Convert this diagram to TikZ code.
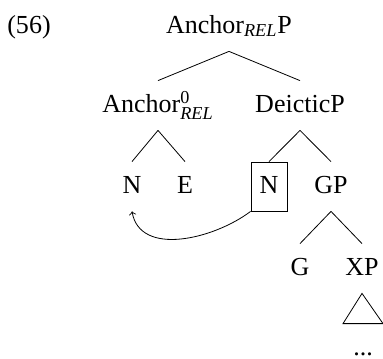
\documentclass[tikz,border=0pt]{standalone}
\usepackage{amsmath}
\usepackage{fontspec}
\setmainfont{Liberation Serif}
\begin{document}
\begin{tikzpicture}[
    every node/.style={font=\fontsize{13}{15}\selectfont},
    lbl/.style={anchor=base, inner sep=0pt, text height=15.5pt, text depth=9pt},
    boxed/.style={lbl, draw, minimum width=18pt}]
    \def\x{0.5pt}
    \def\y{-0.5pt}
    \useasboundingbox (0*\x, 0*\y) rectangle (383*\x, 358*\y);
    \node [lbl] (ex) at (29*\x, 33*\y) {(56)};
    \node [lbl] (A0_0) at (229*\x, 33*\y) {Anchor$_{\textit{REL}}$P};
    \node [lbl] (A1_0) at (158*\x, 112*\y) {Anchor$^{\text{0}}_{\textit{REL}}$};
    \node [lbl] (A1_1) at (300*\x, 112*\y) {DeicticP};
    \node [lbl] (A2_0) at (132*\x, 193*\y) {N};
    \node [lbl] (A2_1) at (185*\x, 193*\y) {E};
    \node [boxed] (A2_2) at (269*\x, 193*\y) {N};
    \node [lbl] (A2_3) at (331*\x, 193*\y) {GP};
    \node [lbl] (A3_0) at (300*\x, 275*\y) {G};
    \node [lbl] (A3_1) at (362*\x, 275*\y) {XP};
    \node [lbl] (A4_0) at (363*\x, 355*\y) {...};
    \path (A0_0.south) edge (A1_0.north);
    \path (A0_0.south) edge (A1_1.north);
    \path (A1_0.south) edge (A2_0.north);
    \path (A1_0.south) edge (A2_1.north);
    \path (A1_1.south) edge (A2_2.north);
    \path (A1_1.south) edge (A2_3.north);
    \path (A2_3.south) edge (A3_0.north);
    \path (A2_3.south) edge (A3_1.north);
    \draw (A3_1.south) -- ([xshift=-10pt]A4_0.north) -- ([xshift=10pt]A4_0.north) -- cycle;
    \draw [->] (A2_2.south west) to [out=217, in=-80] (A2_0.south);
  \end{tikzpicture}
\end{document}
